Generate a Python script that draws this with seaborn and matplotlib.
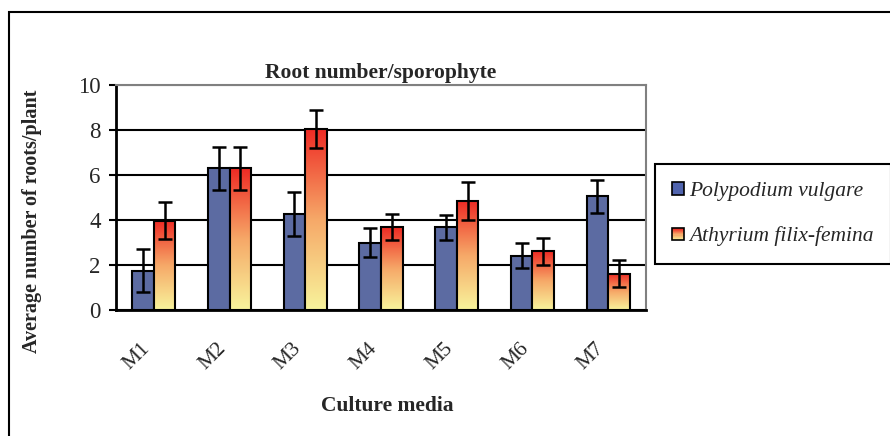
import numpy as np
import pandas as pd
import matplotlib
matplotlib.use("Agg")
import matplotlib.pyplot as plt
import seaborn as sns
from matplotlib.colors import LinearSegmentedColormap
from matplotlib.patches import Rectangle
from matplotlib.legend_handler import HandlerBase

media = ["M1", "M2", "M3", "M4", "M5", "M6", "M7"]
species = ["Polypodium vulgare", "Athyrium filix-femina"]
polypodium = [1.75, 6.3, 4.25, 3.0, 3.68, 2.42, 5.05]
polypodium_err = [0.97, 0.95, 0.98, 0.63, 0.55, 0.54, 0.73]
athyrium = [3.97, 6.3, 8.05, 3.68, 4.85, 2.62, 1.62]
athyrium_err = [0.83, 0.95, 0.85, 0.58, 0.84, 0.6, 0.59]

df = pd.DataFrame({
    "media": media * 2,
    "species": [species[0]] * len(media) + [species[1]] * len(media),
    "value": polypodium + athyrium,
})

blue = "#5064ae"
grad = LinearSegmentedColormap.from_list("ry", ["#f8f49c", "#f6a868", "#ee2a24"])

sns.set_style("white")
plt.rcParams["font.family"] = ["Liberation Serif", "DejaVu Serif"]

fig = plt.figure(figsize=(8.9, 4.36), dpi=100)
ax = fig.add_axes([116 / 890, 1 - 310 / 436, 530 / 890, 225 / 436])

sns.barplot(data=df, x="media", y="value", hue="species", palette=[blue, "#ee2a24"],
            width=0.57, errorbar=None, edgecolor="black", linewidth=1.5,
            ax=ax, legend=False, zorder=3)

# gradient fill for the second series
g = np.linspace(0, 1, 256).reshape(-1, 1)
for p in ax.containers[1]:
    x, w, h = p.get_x(), p.get_width(), p.get_height()
    ax.imshow(g, extent=[x, x + w, 0, h], origin="lower", cmap=grad,
              aspect="auto", zorder=3)
    p.set_facecolor("none")
    p.set_zorder(4)

for cont, vals, errs in [(ax.containers[0], polypodium, polypodium_err),
                         (ax.containers[1], athyrium, athyrium_err)]:
    cx = [p.get_x() + p.get_width() / 2 for p in cont]
    ax.errorbar(cx, vals, yerr=errs, fmt="none", ecolor="black",
                elinewidth=1.8, capsize=5, capthick=1.8, zorder=5)

ax.set_xlim(-0.5, len(media) - 0.5)
ax.set_ylim(0, 10)
ax.set_yticks(range(0, 11, 2))
ax.yaxis.grid(True, color="black", lw=1.5)
ax.set_axisbelow(True)
ax.yaxis.get_gridlines()[-1].set_color("#808080")

ax.set_xticks(np.arange(-0.5, len(media), 1), minor=True)
ax.tick_params(axis="x", which="major", length=0, pad=21, labelsize=15.5)
ax.tick_params(axis="x", which="minor", length=6, width=1.5, direction="out", color="black")
ax.tick_params(axis="y", length=5, width=1.5, direction="out", color="black", left=True,
               labelsize=16.5, pad=6)
plt.setp(ax.get_xticklabels(), rotation=45, ha="right")

for s in ["left", "bottom"]:
    ax.spines[s].set_color("black")
    ax.spines[s].set_linewidth(2)
for s in ["top", "right"]:
    ax.spines[s].set_color("#808080")
    ax.spines[s].set_linewidth(1.5)

ax.set_title("Root number/sporophyte", fontsize=15.5, fontweight="bold", pad=5)
ax.set_ylabel("Average number of roots/plant", fontsize=14.5, fontweight="bold")
ax.yaxis.set_label_coords(-0.14, 0.395)
ax.set_xlabel("Culture media", fontsize=15.5, fontweight="bold")
ax.xaxis.set_label_coords(0.511, -0.38)


class GradientHandler(HandlerBase):
    def create_artists(self, legend, orig_handle, xdescent, ydescent, width, height, fontsize, trans):
        n = 10
        s = min(width, height)
        arts = []
        for i in range(n):
            arts.append(Rectangle((-xdescent, -ydescent + s * i / n), s, s / n,
                                  facecolor=grad((i + 0.5) / n), edgecolor="none", transform=trans))
        arts.append(Rectangle((-xdescent, -ydescent), s, s, facecolor="none",
                              edgecolor="black", lw=1.2, transform=trans))
        return arts


h1 = Rectangle((0, 0), 1, 1, facecolor=blue, edgecolor="black", lw=1.2)
h2 = Rectangle((0, 0), 1, 1, facecolor="#ee2a24", edgecolor="black", lw=1.2)
leg = fig.legend([h1, h2], species, loc="center",
                 bbox_to_anchor=((658 + 888) / 2 / 890, 1 - (163 + 265) / 2 / 436),
                 frameon=True, fancybox=False, edgecolor="black", framealpha=1,
                 prop={"style": "italic", "size": 15.5}, handlelength=0.55, handleheight=0.55,
                 handletextpad=0.25, labelspacing=1.2, borderpad=0.8,
                 handler_map={h2: GradientHandler()})
leg.get_frame().set_linewidth(1.5)

fig.patches.append(Rectangle((9 / 890, -0.1), 1.0, 1 - 12 / 436 + 0.1, transform=fig.transFigure,
                             fill=False, edgecolor="black", lw=1.5, clip_on=False))

fig.savefig("out.png", dpi=100)
